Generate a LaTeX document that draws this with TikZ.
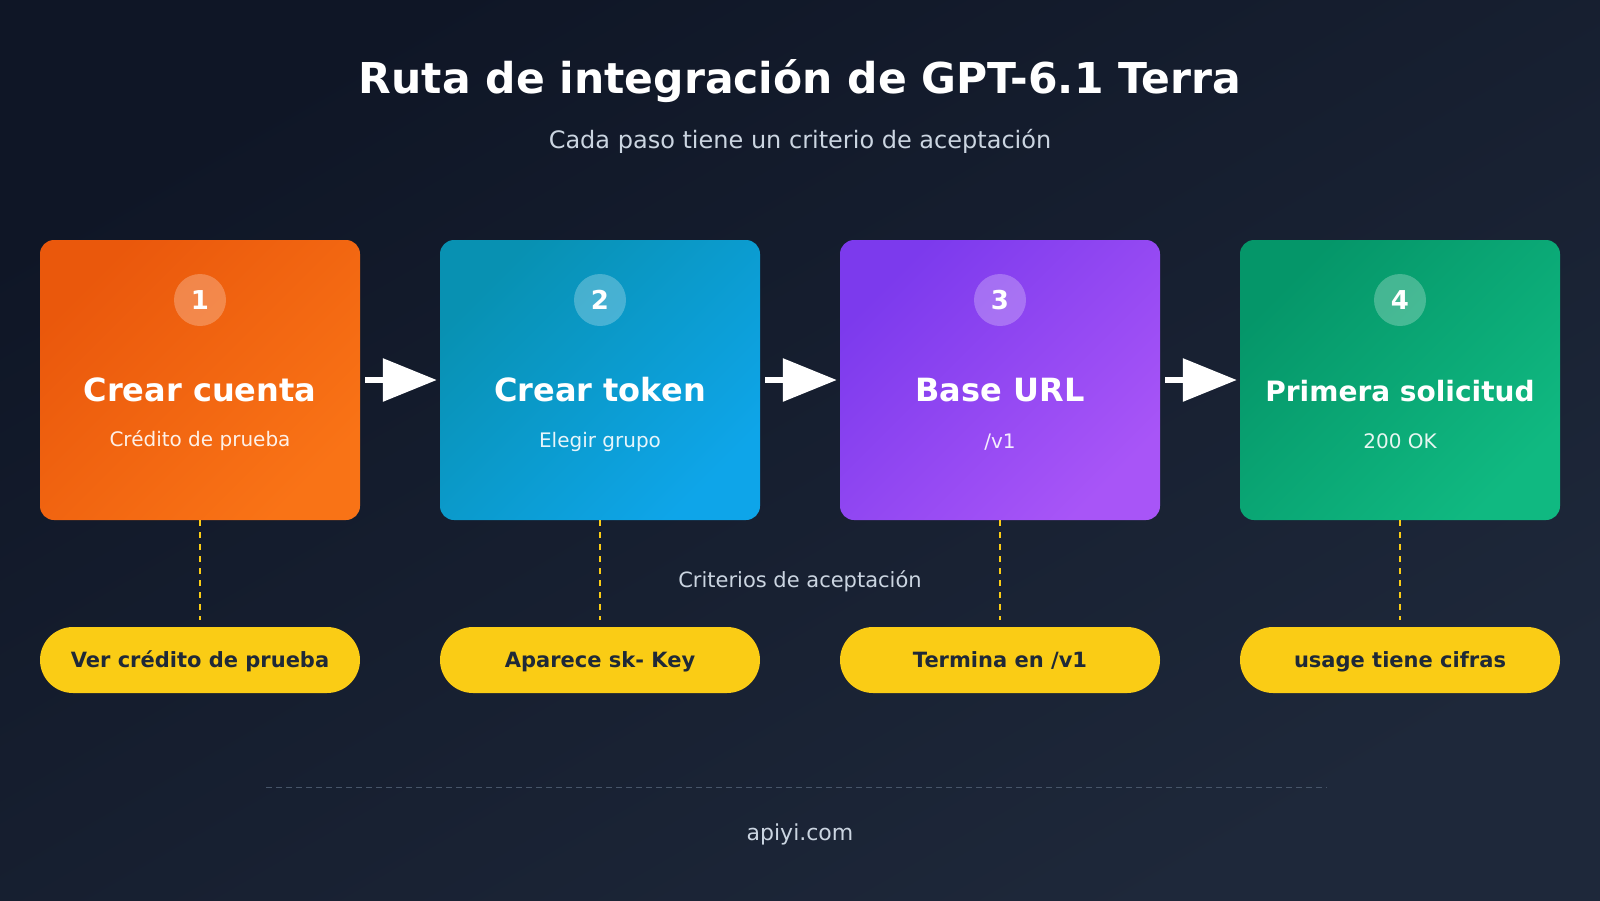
\documentclass[tikz,border=0pt]{standalone}
\usepackage{fontspec}
\setmainfont{DejaVu Sans}
\usetikzlibrary{arrows.meta,positioning,calc}
\definecolor{BgTop}{RGB}{15,22,38}
\definecolor{BgBot}{RGB}{30,40,58}
\definecolor{OrA}{RGB}{234,88,12}
\definecolor{OrB}{RGB}{249,115,22}
\definecolor{CyA}{RGB}{8,145,178}
\definecolor{CyB}{RGB}{14,165,233}
\definecolor{PuA}{RGB}{124,58,237}
\definecolor{PuB}{RGB}{168,85,247}
\definecolor{GrA}{RGB}{5,150,105}
\definecolor{GrB}{RGB}{16,185,129}
\definecolor{PillY}{RGB}{250,204,21}
\definecolor{PillTxt}{RGB}{31,41,55}
\definecolor{SoftTxt}{RGB}{203,213,225}
\definecolor{RuleC}{RGB}{71,85,105}
\newcommand{\px}[1]{\fontsize{#1}{#1}\selectfont}
\tikzset{
  card/.style 2 args={rounded corners=14pt,minimum width=320pt,minimum height=280pt,
                      inner sep=0pt,top color=#1,bottom color=#2,shading angle=45},
  badge/.style={circle,fill=white,fill opacity=0.25,text opacity=1,text=white,
                minimum size=52pt,inner sep=0pt,font=\bfseries\px{26}},
  ctitle/.style={text=white,font=\bfseries\px{32}},
  csub/.style={text=white,text opacity=0.9,font=\px{20}},
  pill/.style={rounded corners=33pt,fill=PillY,minimum width=320pt,minimum height=66pt,
               inner sep=0pt,text height=15pt,text depth=0pt,text=PillTxt,font=\bfseries\px{21}},
  flow/.style={-{Triangle[length=54pt,width=42pt]},line width=6pt,white,
               shorten <=5pt,shorten >=3pt},
  chk/.style={PillY,line width=2.5pt,dash pattern=on 6pt off 6pt,shorten >=7pt},
}
\begin{document}
\begin{tikzpicture}[x=1pt,y=-1pt]
  \shade[top color=BgTop,bottom color=BgBot,shading angle=30] (0,0) rectangle (1600,900);
  \useasboundingbox (0,0) rectangle (1600,900);

  \node[text=white,font=\bfseries\px{42.5}] (title) at (800,81) {Ruta de integración de GPT-6.1 Terra};
  \node[text=SoftTxt,font=\px{24}] (subtitle) at (800,141) {Cada paso tiene un criterio de aceptación};

  % pasos
  \node[card={OrA}{OrB}] (c1) at (200,380) {};
  \node[card={CyA}{CyB}] (c2) at (600,380) {};
  \node[card={PuA}{PuB}] (c3) at (1000,380) {};
  \node[card={GrA}{GrB}] (c4) at (1400,380) {};

  \node[badge] (n1) at (200,300) {1};
  \node[badge] (n2) at (600,300) {2};
  \node[badge] (n3) at (1000,300) {3};
  \node[badge] (n4) at (1400,300) {4};

  \node[ctitle] (t1) at (200,390) {Crear cuenta};
  \node[ctitle] (t2) at (600,390) {Crear token};
  \node[ctitle] (t3) at (1000,390) {Base URL};
  \node[ctitle,font=\bfseries\px{28}] (t4) at (1400,391) {Primera solicitud};

  \node[csub] (s1) at (200,441) {Crédito de prueba};
  \node[csub] (s2) at (600,442) {Elegir grupo};
  \node[csub] (s3) at (1000,442) {/v1};
  \node[csub] (s4) at (1400,441) {200 OK};

  \draw[flow] (c1.east) -- (c2.west);
  \draw[flow] (c2.east) -- (c3.west);
  \draw[flow] (c3.east) -- (c4.west);

  % criterios
  \node[text=SoftTxt,font=\px{21}] (crit) at (800,581) {Criterios de aceptación};

  \node[pill] (p1) at (200,660) {Ver crédito de prueba};
  \node[pill] (p2) at (600,660) {Aparece sk- Key};
  \node[pill] (p3) at (1000,660) {Termina en /v1};
  \node[pill] (p4) at (1400,660) {usage tiene cifras};

  \draw[chk] (c1.south) -- (p1.north);
  \draw[chk] (c2.south) -- (p2.north);
  \draw[chk] (c3.south) -- (p3.north);
  \draw[chk] (c4.south) -- (p4.north);

  \coordinate (rl) at (266,787);
  \coordinate (rr) at (1327,787);
  \draw[RuleC,line width=1pt,dash pattern=on 6pt off 4pt] (rl) -- (rr);
  \node[text=SoftTxt,font=\px{22}] (site) at (800,834) {apiyi.com};
\end{tikzpicture}
\end{document}
